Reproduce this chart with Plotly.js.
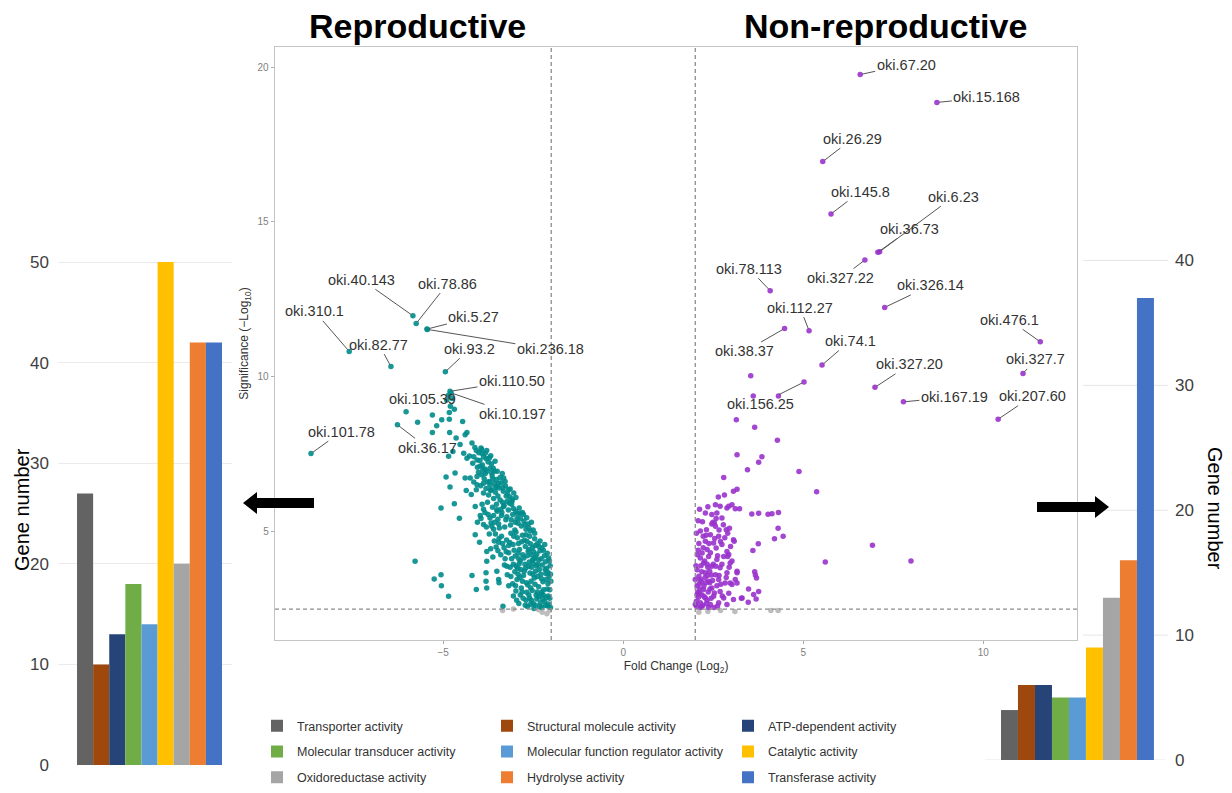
<!DOCTYPE html>
<html>
<head>
<meta charset="utf-8">
<script src="https://cdn.plot.ly/plotly-3.0.1.min.js"></script>
<style>html,body{margin:0;padding:0;background:#fff;}#chart{width:1232px;height:793px;}</style>
</head>
<body>
<div id="chart"></div>
<script>
// ---------------- DATA ----------------
const categories = ['Transporter activity','Structural molecule activity','ATP-dependent activity',
  'Molecular transducer activity','Molecular function regulator activity','Catalytic activity',
  'Oxidoreductase activity','Hydrolyse activity','Transferase activity'];
const reproductiveCounts = [27,10,13,18,14,50,20,42,42];
const nonReproductiveCounts = [4,6,6,5,5,9,13,16,37];
const foldThreshold = 2;
const sigThreshold = 2.5;

// labelled genes (fold change, significance)
const repLabels = ['oki.40.143','oki.78.86','oki.5.27','oki.236.18','oki.310.1','oki.82.77','oki.93.2','oki.110.50','oki.10.197','oki.105.39','oki.101.78','oki.36.17'];
const repLabelX = [-5.84,-5.75,-5.45,-5.44,-7.61,-6.45,-4.94,-4.81,-4.78,-4.90,-8.67,-6.27];
const repLabelY = [11.97,11.72,11.54,11.53,10.82,10.33,10.16,9.53,9.48,9.25,7.52,8.45];
const nonLabels = ['oki.67.20','oki.15.168','oki.26.29','oki.145.8','oki.6.23','oki.36.73','oki.327.22','oki.78.113','oki.326.14','oki.112.27','oki.38.37','oki.476.1','oki.74.1','oki.327.20','oki.327.7','oki.167.19','oki.207.60','oki.156.25'];
const nonLabelX = [6.58,8.71,5.54,5.77,7.12,7.07,6.71,4.08,7.26,5.16,4.48,11.58,5.52,6.99,11.10,7.78,10.41,5.02];
const nonLabelY = [19.76,18.86,16.95,15.26,14.04,14.02,13.77,12.78,12.24,11.49,11.56,11.13,10.38,9.66,10.11,9.19,8.63,9.83];

// other reproductive-biased genes [fold change, significance]
const repPoints = [
[-6.03,8.87],[-5.71,8.53],[-5.30,8.77],[-5.18,8.42],[-5.04,8.61],[-4.83,8.63],[-4.83,8.85],[-4.69,8.95],[-4.46,8.56],
[-5.30,8.20],[-4.82,8.20],[-4.64,8.02],[-4.39,8.13],[-4.34,8.20],[-4.53,7.81],[-4.20,7.86],[-4.85,7.43],[-4.73,7.59],
[-4.43,7.53],[-4.34,7.37],[-4.06,7.31],[-3.93,7.65],[-3.83,7.53],[-3.56,7.27],[-4.92,6.76],[-4.67,6.89],[-4.39,6.73],
[-4.25,6.73],[-4.06,6.78],[-4.06,6.51],[-3.88,6.56],[-3.65,6.89],[-3.32,6.73],[-4.81,6.44],[-4.36,6.33],[-4.08,6.35],
[-3.69,6.35],[-3.51,6.46],[-3.19,6.35],[-5.06,5.76],[-4.69,5.90],[-4.55,5.43],[-4.11,5.81],[-3.97,5.52],[-3.88,5.23],
[-4.11,4.90],[-3.99,4.66],[-3.79,4.36],[-3.79,4.04],[-3.53,4.50],[-5.78,4.04],[-5.25,3.47],[-5.06,3.61],[-5.05,3.25],
[-4.85,2.91],[-4.20,3.58],[-4.08,3.13],[-3.81,3.67],[-3.81,3.40],[-3.79,3.18],[-3.51,3.72],[-3.46,3.45],[-3.34,2.59],
[-3.23,3.88],[-3.65,5.17],[-3.51,5.71],[-3.32,5.81],[-3.09,5.98],[-2.86,5.59],[-2.77,5.55],[-4.85,9.40],[-4.75,9.30],[-4.80,9.05],
[-4.12,7.72],[-4.01,7.55],[-3.95,7.70],[-3.88,7.41],[-3.79,7.62],[-3.72,7.38],[-3.66,7.18],[-4.18,7.21],[-4.05,7.08],
[-3.91,7.15],[-3.84,7.02],[-3.61,7.05],[-4.27,7.44],[-3.98,7.30],[-3.75,7.25],
[-4.02,6.92],[-3.93,6.84],[-3.86,6.71],[-3.78,6.95],[-3.71,6.62],[-3.64,6.80],[-3.58,6.55],[-3.52,6.68],[-3.45,6.41],
[-3.39,6.58],[-3.33,6.30],[-3.27,6.47],[-3.21,6.22],[-3.15,6.12],[-3.08,6.05],[-3.96,6.48],[-3.88,6.25],[-3.81,6.39],
[-3.74,6.18],[-3.67,6.33],[-3.60,6.07],[-3.55,6.27],[-3.48,6.15],[-3.42,6.02],[-4.15,6.60],[-4.22,6.20],[-3.70,6.50],
[-3.36,6.88],[-3.50,6.95],
[-3.92,5.88],[-3.84,5.62],[-3.77,5.95],[-3.70,5.44],[-3.63,5.79],[-3.57,5.30],[-3.50,5.66],[-3.44,5.12],[-3.38,5.52],
[-3.31,5.85],[-3.26,5.38],[-3.19,5.70],[-3.13,5.21],[-3.07,5.55],[-3.01,5.05],[-2.95,5.42],[-2.89,5.76],[-2.83,5.18],
[-2.76,5.34],[-2.70,5.08],[-2.64,5.25],[-2.58,5.02],[-3.35,5.95],[-3.22,5.98],[-3.10,5.88],[-2.98,5.66],[-3.60,5.08],
[-3.48,5.40],[-3.40,5.72],[-2.92,5.27],[-4.05,5.30],[-3.80,5.15],
[-3.55,4.92],[-3.46,4.66],[-3.38,4.85],[-3.31,4.48],[-3.24,4.73],[-3.18,4.32],[-3.12,4.95],[-3.06,4.58],[-3.00,4.21],
[-2.94,4.80],[-2.88,4.42],[-2.82,4.67],[-2.76,4.15],[-2.70,4.90],[-2.64,4.36],[-2.58,4.61],[-2.52,4.08],[-2.46,4.77],
[-2.40,4.28],[-2.34,4.52],[-2.28,4.12],[-2.22,4.40],[-2.16,4.03],[-3.68,4.45],[-3.28,4.12],[-2.98,4.98],[-2.86,4.05],
[-2.60,4.85],[-2.44,4.55],[-2.31,4.70],[-3.15,4.65],[-2.72,4.52],[-2.55,4.25],[-2.92,4.30],[-3.40,4.25],
[-3.30,3.92],[-3.22,3.61],[-3.14,3.85],[-3.07,3.32],[-3.01,3.70],[-2.95,3.45],[-2.89,3.96],[-2.83,3.18],[-2.77,3.58],
[-2.71,3.82],[-2.65,3.28],[-2.59,3.66],[-2.53,3.10],[-2.47,3.50],[-2.41,3.89],[-2.35,3.22],[-2.29,3.62],[-2.23,3.38],
[-2.17,3.78],[-2.11,3.15],[-2.06,3.55],[-2.03,3.90],[-3.45,3.35],[-2.98,3.08],[-2.68,3.04],[-2.44,3.72],[-2.26,3.05],
[-2.14,3.45],[-2.56,3.40],[-2.80,3.40],[-2.38,3.55],[-2.09,3.68],[-2.50,3.98],[-2.92,3.62],[-3.18,3.25],
[-3.05,2.92],[-2.90,2.68],[-2.78,2.85],[-2.66,2.58],[-2.55,2.78],[-2.44,2.62],[-2.35,2.90],[-2.26,2.55],[-2.18,2.75],
[-2.10,2.60],[-2.04,2.85],[-2.62,2.95],[-2.48,2.52],[-2.22,2.95],[-2.07,2.66],[-2.30,2.70],
[-3.18,4.55],[-3.10,4.12],[-3.03,4.40],[-2.97,3.88],[-2.91,4.62],[-2.85,3.78],[-2.79,4.25],[-2.73,3.95],[-2.67,4.68],
[-2.61,4.02],[-2.55,3.85],[-2.49,4.35],[-2.43,4.18],[-2.37,3.95],[-2.31,4.38],[-2.25,3.92],[-2.19,4.22],[-2.13,3.82],
[-2.07,4.15],[-2.02,3.62],[-3.12,3.55],[-3.05,3.95],[-2.99,3.25],[-2.93,3.82],[-2.87,3.52],[-2.81,3.05],[-2.75,3.72],
[-2.69,3.35],[-2.63,3.88],[-2.57,3.18],[-2.51,3.62],[-2.45,3.30],[-2.39,3.05],[-2.33,3.78],[-2.27,3.48],[-2.21,3.12],
[-2.15,3.65],[-2.09,3.32],[-2.04,3.12],[-2.01,3.40],[-2.96,2.78],[-2.86,2.95],[-2.72,2.62],[-2.60,2.85],[-2.50,2.68],
[-2.40,2.82],[-2.32,2.58],[-2.24,2.82],[-2.16,2.62],[-2.08,2.92],[-2.02,2.55],[-2.13,2.88],[-2.28,2.98],[-2.42,2.95],
[-2.58,2.65],[-2.70,2.78],[-2.46,4.95],[-2.38,4.62],[-2.52,4.48],[-2.66,4.22],[-2.80,4.88],[-2.74,4.72],[-2.62,4.42],
[-2.48,4.12],[-2.35,4.08],[-2.26,4.48],[-2.18,4.58],[-2.11,4.30],[-2.05,4.05],[-2.90,4.12],[-3.04,4.85],
[-3.60,5.52],[-3.52,5.88],[-3.46,5.25],[-3.37,5.62],[-3.29,5.15],[-3.23,5.48],[-3.16,5.92],[-3.11,5.38],[-3.05,5.75],
[-3.00,5.30],[-2.94,5.58],[-2.86,5.42],[-2.80,5.62],[-2.73,5.22],[-2.68,5.45],[-2.62,5.12],[-2.55,5.30],[-2.50,5.05],
[-3.28,6.62],[-3.42,6.75],[-3.56,6.42],[-3.62,6.70],[-3.76,6.60],[-3.83,6.88],[-3.90,7.00],[-3.97,7.12],[-3.70,7.05],
[-3.58,6.95],[-3.47,6.55],[-3.35,6.42],[-3.25,6.15],[-3.14,6.38],[-3.04,6.25],[-2.98,6.10],[-3.68,7.45],[-3.80,7.35],
[-3.92,7.52],[-4.08,7.62],[-4.15,7.42],[-3.88,5.72],[-3.75,5.55],[-3.67,5.28],[-3.95,5.42],[-3.72,4.92],[-3.45,4.78],
[-3.35,4.62],[-3.58,4.70],[-3.48,4.38],[-3.62,4.18],[-3.25,4.35]
];

// other non-reproductive-biased genes [fold change, significance]
const nonPoints = [
[3.54,10.03],[3.61,9.38],[4.31,9.38],[3.14,8.61],[3.65,8.37],[4.28,7.95],[3.16,7.48],[3.85,7.42],[3.76,7.24],[3.45,7.00],
[4.88,6.94],[2.79,6.75],[5.37,6.29],[3.16,6.37],[3.06,6.30],[2.81,6.18],[2.64,6.12],[3.57,5.57],[3.76,5.59],[4.02,5.56],
[4.13,5.58],[4.31,5.62],[4.30,5.11],[4.44,4.85],[4.20,4.77],[3.75,4.61],[3.60,4.39],[6.92,4.56],[5.61,4.02],[7.99,4.05],
[3.65,3.70],[3.67,3.60],[3.70,3.50],[3.48,3.15],[3.76,3.07],[3.62,2.97],[3.69,2.82],[3.28,2.85],[3.47,2.72],
[2.28,5.60],[2.56,5.87],[2.69,5.82],[2.88,5.76],[3.02,5.87],[3.11,5.74],[3.23,5.74],[2.60,5.60],[2.46,5.55],[2.74,5.44],
[2.31,5.06],[2.56,5.17],[2.86,5.06],[2.95,5.11],[2.42,4.90],[2.65,4.85],[3.06,4.74],[2.28,4.69],[2.51,4.63],[2.74,4.58],
[2.58,4.47],[2.33,4.42],[2.88,4.36],[2.14,4.15],[2.37,4.20],[2.60,4.10],[2.79,4.20],[2.97,3.99],[2.23,3.99],[2.46,3.88],
[2.69,3.83],[2.05,3.77],[2.28,3.67],[2.56,3.61],[2.88,3.67],[3.16,3.72],[2.14,3.45],[2.37,3.40],[2.65,3.45],[2.83,3.34],
[3.02,3.29],[2.05,3.24],[2.23,3.13],[2.46,3.18],[2.69,3.07],[2.93,3.01],[2.05,2.97],[2.28,2.86],[2.51,2.91],[2.79,2.86],
[3.06,2.81],[3.30,2.86],[2.14,2.70],[2.42,2.65],[2.65,2.70],[2.88,2.65],[2.00,2.65],[2.10,3.56],[2.19,4.31],[2.00,3.45],
[3.11,3.45],[3.16,3.34],[2.49,5.30],[2.53,5.28],[2.93,5.82],[2.93,4.26],[3.16,3.67],[2.97,3.34],[3.08,4.69],[2.90,4.20],
[2.12,3.02],[2.18,2.58],[2.33,2.78],[2.40,3.35],[2.52,2.55],[2.60,3.25],[2.16,3.90],[2.08,4.40],[2.35,3.85],[2.22,4.85],
[2.03,2.75],[2.07,3.05],[2.11,3.32],[2.15,2.55],[2.19,2.95],[2.24,3.25],[2.27,3.52],[2.31,2.68],[2.36,3.05],[2.40,3.72],
[2.44,2.85],[2.48,3.42],[2.53,3.02],[2.57,3.88],[2.62,2.60],[2.66,3.58],[2.71,3.30],[2.75,2.92],[2.02,3.90],[2.06,4.25],
[2.10,4.62],[2.14,5.02],[2.18,3.70],[2.22,4.48],[2.26,4.05],[2.30,4.88],[2.34,3.58],[2.38,4.62],[2.42,4.32],[2.46,5.25],
[2.50,3.95],[2.54,4.78],[2.58,5.42],[2.62,4.22],[2.66,5.05],[2.70,4.68],[2.74,3.95],[2.78,5.22],[2.82,4.80],[2.86,3.52],
[2.90,4.95],[2.94,3.85],[2.98,4.52],[3.02,4.05],[2.04,2.58],[2.09,2.88],[2.13,3.15],[2.17,3.38],[2.21,2.62],[2.25,2.90],
[2.29,3.35],[2.33,3.95],[2.37,2.55],[2.41,3.15],[2.45,3.60],[2.03,4.95],[2.08,5.35],[2.12,5.72],[2.20,5.32],[2.35,5.80]
];

// non-significant genes near the thresholds
const grayPoints = [[-2.25,2.40],[-2.12,2.35],[-2.05,2.45],[-2.35,2.48],[-3.35,2.45],[-3.05,2.50],
  [2.10,2.40],[2.35,2.42],[2.70,2.45],[3.10,2.42],[4.10,2.45],[4.30,2.45]];

// ---------------- STYLE ----------------
const W = 1232, H = 793;
const fx = v => v / W, fy = v => 1 - v / H;
const catColors = ['#636363','#9e480e','#264478','#70ad47','#5b9bd5','#ffc000','#a5a5a5','#ed7d31','#4472c4'];
const teal = '#008b8b', purple = '#9932cc';
const FONT = 'Liberation Sans, Arial, sans-serif';
// label offsets (pixels from the point to the label centre)
const repLabelOffset = [[-51,-36],[31.5,-40],[47,-12],[123,20],[-34.5,-40],[-12,-22],[24.5,-23],[62,-10],[61,21],[-24,-1],[30.5,-22],[30,23]];
const nonLabelOffset = [[46,-10],[50,-5],[30,-23],[29,-22],[74,-55],[32,-23],[-24,18],[-21,-22],[46,-22],[-9,-23],[-40,23],[-31,-22],[28,-24],[35,-23],[13,-14],[51,-5],[34,-23],[-44,22]];

const traces = [];
traces.push({type:'scatter', mode:'markers', xaxis:'x', yaxis:'y', showlegend:false,
  x: grayPoints.map(p=>p[0]), y: grayPoints.map(p=>p[1]),
  marker:{color:'#bdbdbd', size:5.5}});
traces.push({type:'scatter', mode:'markers', xaxis:'x', yaxis:'y', showlegend:false,
  x: repPoints.map(p=>p[0]).concat(repLabelX), y: repPoints.map(p=>p[1]).concat(repLabelY),
  marker:{color:teal, size:5.5, opacity:0.9}});
traces.push({type:'scatter', mode:'markers', xaxis:'x', yaxis:'y', showlegend:false,
  x: nonPoints.map(p=>p[0]).concat(nonLabelX), y: nonPoints.map(p=>p[1]).concat(nonLabelY),
  marker:{color:purple, size:5.5, opacity:0.9}});

const legendFor = i => ['legend','legend2','legend3'][i % 3];
categories.forEach((c,i)=>{
  traces.push({type:'bar', xaxis:'x2', yaxis:'y2', x:[c], y:[reproductiveCounts[i]], width:1,
    name:c, legendgroup:c, legend:legendFor(i), showlegend:true,
    marker:{color:catColors[i], line:{width:0}}});
  traces.push({type:'bar', xaxis:'x3', yaxis:'y3', x:[c], y:[nonReproductiveCounts[i]], width:1,
    name:c, legendgroup:c, legend:legendFor(i), showlegend:false,
    marker:{color:catColors[i], line:{width:0}}});
});

const labelFont = {family:FONT, size:14.5, color:'#333'};
const annotations = [];
repLabels.forEach((t,i)=>annotations.push({xref:'x', yref:'y', x:repLabelX[i], y:repLabelY[i], text:t,
  showarrow:true, arrowhead:0, arrowwidth:1, arrowcolor:'#555', ax:repLabelOffset[i][0], ay:repLabelOffset[i][1],
  standoff:2, font:labelFont}));
nonLabels.forEach((t,i)=>annotations.push({xref:'x', yref:'y', x:nonLabelX[i], y:nonLabelY[i], text:t,
  showarrow:true, arrowhead:0, arrowwidth:1, arrowcolor:'#555', ax:nonLabelOffset[i][0], ay:nonLabelOffset[i][1],
  standoff:2, font:labelFont}));
const txt = (x,y,text,size,angle)=>({xref:'paper', yref:'paper', x:fx(x), y:fy(y), xanchor:'center', yanchor:'middle',
  text:text, textangle:angle||0, showarrow:false, font:{family:FONT, size:size, color:'#000'}});
annotations.push(txt(417,26,'<b>Reproductive</b>',34));
annotations.push(txt(885,26,'<b>Non-reproductive</b>',34));
annotations.push(txt(22,510,'Gene number',20,-90));
annotations.push(txt(1215,508,'Gene number',20,90));

const P = (x,y)=>fx(x)+','+fy(y);
const dashLine = {color:'#8c8c8c', width:1.3, dash:'4px,3px'};
const shapes = [
  {type:'line', xref:'x', yref:'y domain', x0:-foldThreshold, x1:-foldThreshold, y0:0, y1:1, line:dashLine},
  {type:'line', xref:'x', yref:'y domain', x0:foldThreshold, x1:foldThreshold, y0:0, y1:1, line:dashLine},
  {type:'line', xref:'x domain', yref:'y', x0:0, x1:1, y0:sigThreshold, y1:sigThreshold, line:dashLine},
  // arrows
  {type:'path', xref:'paper', yref:'paper', line:{width:0}, fillcolor:'#000',
   path:'M'+P(243,503)+'L'+P(257,492)+'L'+P(257,498)+'L'+P(314,498)+'L'+P(314,508)+'L'+P(257,508)+'L'+P(257,514)+'Z'},
  {type:'path', xref:'paper', yref:'paper', line:{width:0}, fillcolor:'#000',
   path:'M'+P(1109,507)+'L'+P(1095,496)+'L'+P(1095,502)+'L'+P(1037,502)+'L'+P(1037,512)+'L'+P(1095,512)+'L'+P(1095,518)+'Z'}
];
// right bar chart gridlines (partly hidden behind the volcano panel in the original)
[10,20,30,40].forEach(v=>shapes.push({type:'line', layer:'below', xref:'paper', yref:'y3', x0:fx(1083), x1:fx(1168), y0:v, y1:v, line:{color:'#e6e6e6', width:1}}));
shapes.push({type:'line', layer:'below', xref:'paper', yref:'y3', x0:fx(985), x1:fx(1165), y0:0, y1:0, line:{color:'#e6e6e6', width:1}});

const legendBase = {orientation:'v', yanchor:'bottom', xanchor:'left', y:0.001,
  bgcolor:'rgba(0,0,0,0)', font:{family:FONT, size:12.5, color:'#333'}, tracegroupgap:6.5,
  itemclick:false, itemdoubleclick:false};

const layout = {
  width:W, height:H, autosize:false, margin:{l:0,r:0,t:0,b:0},
  paper_bgcolor:'#fff', plot_bgcolor:'rgba(0,0,0,0)',
  font:{family:FONT},
  barmode:'overlay', hovermode:false,
  xaxis:{domain:[fx(275), fx(1077)], range:[-9.67,12.6], anchor:'y', showgrid:false, zeroline:false,
    showline:true, mirror:true, linecolor:'#c4c4c4', linewidth:1.3, ticks:'outside', ticklen:3, tickcolor:'#aaa',
    tickvals:[-5,0,5,10], tickfont:{size:10, color:'#7f7f7f', family:FONT},
    title:{text:'Fold Change (Log<sub>2</sub>)', font:{size:12, color:'#333', family:FONT}, standoff:4}},
  yaxis:{domain:[fy(640), fy(47)], range:[1.5,20.65], anchor:'x', showgrid:false, zeroline:false,
    showline:true, mirror:true, linecolor:'#c4c4c4', linewidth:1.3, ticks:'outside', ticklen:3, tickcolor:'#aaa',
    tickvals:[5,10,15,20], tickfont:{size:10, color:'#7f7f7f', family:FONT},
    title:{text:'Significance (\u2212Log<sub>10</sub>)', font:{size:12, color:'#333', family:FONT}, standoff:6}},
  xaxis2:{domain:[fx(58), fx(232)], anchor:'y2', type:'category', categoryorder:'array', categoryarray:categories,
    range:[-1.68,9.12], showticklabels:false, showgrid:false, zeroline:false, showline:false, ticks:''},
  yaxis2:{domain:[fy(765), fy(260)], anchor:'x2', range:[0,50.2], tickvals:[0,10,20,30,40,50], showgrid:true,
    gridcolor:'#ebebeb', zeroline:false, showline:false, ticks:'', ticklabelstandoff:8,
    tickfont:{size:17, color:'#404040', family:FONT}},
  xaxis3:{domain:[fx(985), fx(1165)], anchor:'y3', type:'category', categoryorder:'array', categoryarray:categories,
    range:[-1.44,9.15], showticklabels:false, showgrid:false, zeroline:false, showline:false, ticks:''},
  yaxis3:{domain:[fy(760), fy(258)], anchor:'x3', side:'right', range:[0,40.2], tickvals:[0,10,20,30,40], showgrid:false,
    zeroline:false, showline:false, ticks:'', ticklabelstandoff:9, tickfont:{size:17, color:'#404040', family:FONT}},
  legend:Object.assign({}, legendBase, {x:fx(257)}),
  legend2:Object.assign({}, legendBase, {x:fx(487)}),
  legend3:Object.assign({}, legendBase, {x:fx(728)}),
  annotations:annotations,
  shapes:shapes
};

Plotly.newPlot('chart', traces, layout, {displayModeBar:false, staticPlot:true});
</script>
</body>
</html>
